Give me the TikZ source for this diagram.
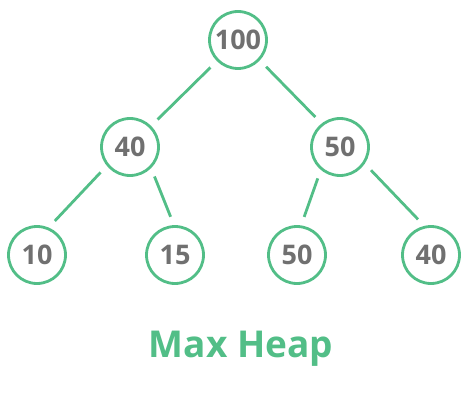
\documentclass[tikz,border=0pt]{standalone}
\usepackage{fontspec}
\setmainfont{Open Sans}
\usepackage{xcolor}
\definecolor{heapgreen}{RGB}{82,190,135}
\definecolor{numgray}{RGB}{112,112,112}

\begin{document}
\begin{tikzpicture}[x=1pt,y=-1pt]
\tikzstyle{heapnode} = [circle, draw=heapgreen, line width=2.8pt, fill=white, minimum size=57pt, inner sep=0pt, text=numgray, font=\fontsize{27}{29}\selectfont\bfseries]
\tikzstyle{edge} = [draw=heapgreen, line width=2.8pt, shorten <=9pt, shorten >=9pt]

\useasboundingbox (0,0) rectangle (469,404);

\node (root) [heapnode] at (238,40) {100};
\node (left) [heapnode] at (130,147) {40};
\node (right) [heapnode] at (340,147) {50};
\node (ll) [heapnode] at (37,255) {10};
\node (lr) [heapnode] at (175,255) {15};
\node (rl) [heapnode] at (297,255) {50};
\node (rr) [heapnode] at (431,255) {40};
\node (title) at (241,357) [anchor=base, text=heapgreen, font=\fontsize{37}{40}\selectfont\bfseries] {Max Heap};

% edges leave the circles at slightly uneven angles, as in the drawing
\draw [edge] (root.225) -- (left.45);
\draw [edge] (root.-43) -- (right.128);
\draw [edge] (left.219) -- (ll.67);
\draw [edge] (left.-45) -- (lr.92);
\draw [edge] (right.230) -- (rl.82);
\draw [edge] (right.-34) -- (rr.103);

\end{tikzpicture}
\end{document}
